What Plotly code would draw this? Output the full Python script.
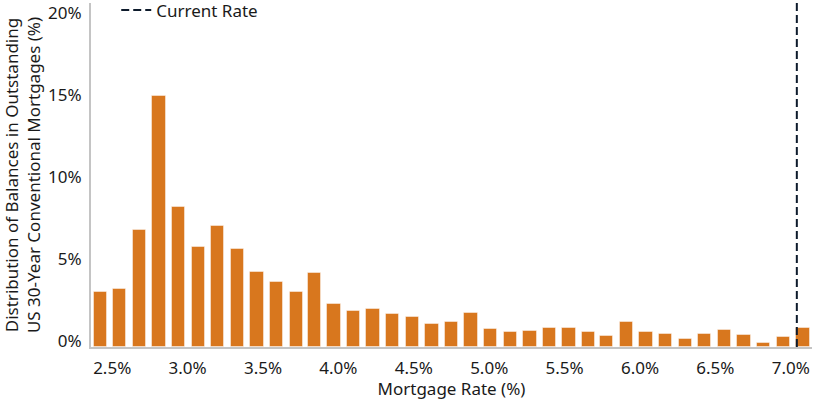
import plotly.graph_objects as go

# Rate buckets (%) and share of outstanding balances (%)
rate_buckets = [2.42, 2.55, 2.68, 2.81, 2.94, 3.07, 3.20, 3.33, 3.46, 3.59,
                3.72, 3.84, 3.97, 4.10, 4.23, 4.36, 4.49, 4.62, 4.75, 4.88,
                5.01, 5.14, 5.27, 5.40, 5.53, 5.66, 5.78, 5.91, 6.04, 6.17,
                6.30, 6.43, 6.56, 6.69, 6.82, 6.95, 7.08]
balance_share = [3.34, 3.52, 7.15, 15.35, 8.55, 6.11, 7.41, 6.01, 4.60, 3.95,
                 3.38, 4.52, 2.65, 2.21, 2.29, 2.00, 1.86, 1.39, 1.54, 2.10,
                 1.11, 0.90, 0.96, 1.13, 1.13, 0.93, 0.70, 1.51, 0.93, 0.78,
                 0.46, 0.80, 1.01, 0.74, 0.27, 0.64, 1.19]
current_rate = 7.04

x_ticks = [2.5, 3.0, 3.5, 4.0, 4.5, 5.0, 5.5, 6.0, 6.5, 7.0]
x_tick_labels = ["2.5%", "3.0%", "3.5%", "4.0%", "4.5%", "5.0%", "5.5%", "6.0%", "6.5%", "7.0%"]
y_ticks = [0, 5, 10, 15, 20]
y_tick_labels = ["0%", "5%", "10%", "15%", "20%"]

FONT = "Noto Sans"
TEXT = "#1a1a1a"
AXIS = "#c4c4c4"

fig = go.Figure()
fig.add_trace(go.Bar(
    x=rate_buckets, y=balance_share, width=0.088,
    marker=dict(color="#D8771E", line=dict(color="rgba(255,255,255,0.45)", width=1)),
    showlegend=False, name="Share",
))
fig.add_trace(go.Scatter(
    x=[current_rate, current_rate], y=[0, 21], mode="lines",
    line=dict(color="#0e1b2c", width=2, dash="8px,4px"),
    name="Current Rate", showlegend=True,
))

fig.update_layout(
    width=816, height=400,
    margin=dict(l=91, r=4, t=3, b=53, autoexpand=False),
    paper_bgcolor="white", plot_bgcolor="white",
    font=dict(family=FONT, size=17, color=TEXT),
    showlegend=True,
    legend=dict(x=0.035, y=1.031, xanchor="left", yanchor="top",
                bgcolor="rgba(0,0,0,0)", font=dict(family=FONT, size=17, color=TEXT)),
    bargap=0,
)
fig.update_xaxes(
    range=[2.3594, 7.1406], tickmode="array", tickvals=x_ticks, ticktext=x_tick_labels,
    showline=True, linecolor=AXIS, linewidth=2, ticks="", showgrid=False, zeroline=False,
    automargin=False, ticklabelstandoff=5,
    title=dict(text="Mortgage Rate (%)", font=dict(family=FONT, size=17, color=TEXT), standoff=6),
    tickfont=dict(family=FONT, size=17, color=TEXT),
)
fig.update_yaxes(
    range=[0, 21], tickmode="array", tickvals=y_ticks, ticktext=y_tick_labels,
    showline=True, linecolor=AXIS, linewidth=2, ticks="", showgrid=False, zeroline=False,
    automargin=False,
    ticklabelshift=-6, ticklabelstandoff=4,
    title=dict(text="Distribution of Balances in Outstanding<br>US 30-Year Conventional Mortgages (%)",
               font=dict(family=FONT, size=17, color=TEXT), standoff=6),
    tickfont=dict(family=FONT, size=17, color=TEXT),
)

fig.write_html("out.html", config={"displayModeBar": False},
               post_script="document.body.style.margin='0';document.body.style.overflow='hidden';")
